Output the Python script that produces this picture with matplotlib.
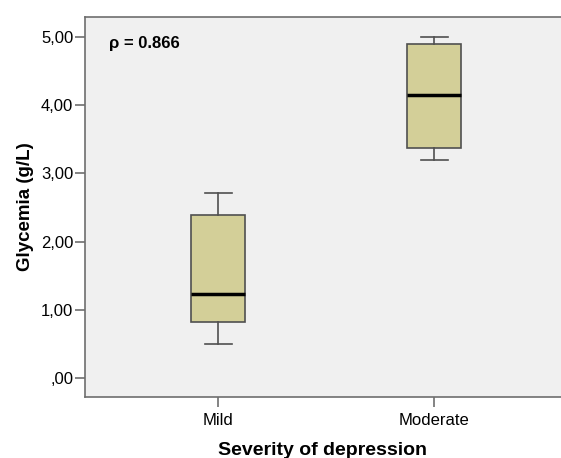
import matplotlib.pyplot as plt

plt.rcParams['font.family'] = ['Liberation Sans', 'DejaVu Sans']

groups = ['Mild', 'Moderate']
whislo = [0.50, 3.20]
q1 = [0.83, 3.37]
med = [1.24, 4.15]
q3 = [2.39, 4.89]
whishi = [2.72, 5.00]
yticks = [0, 1, 2, 3, 4, 5]
ytick_labels = [',00', '1,00', '2,00', '3,00', '4,00', '5,00']

stats = [dict(label=g, whislo=a, q1=b, med=c, q3=d, whishi=e, fliers=[])
         for g, a, b, c, d, e in zip(groups, whislo, q1, med, q3, whishi)]

fig = plt.figure(figsize=(5.61, 4.58), dpi=100)
ax = fig.add_axes([0.1515, 0.1332, 0.8485, 0.8297])
ax.set_facecolor('#f0f0f0')

edge = '#505050'
ax.bxp(stats, positions=[1, 2], widths=0.25, patch_artist=True,
       boxprops=dict(facecolor='#d3cf98', edgecolor=edge, linewidth=1.2),
       medianprops=dict(color='black', linewidth=2.5),
       whiskerprops=dict(color=edge, linewidth=1.2),
       capprops=dict(color=edge, linewidth=1.2),
       capwidths=0.125)

ax.set_xlim(0.384, 2.588)
ax.set_ylim(-0.274, 5.29)
ax.set_yticks(yticks)
ax.set_yticklabels(ytick_labels)
ax.set_xticks([1, 2])
ax.set_xticklabels(groups)

for s in ['left', 'bottom', 'top']:
    ax.spines[s].set_color('#6e6e6e')
    ax.spines[s].set_linewidth(1.2)
ax.spines['right'].set_visible(False)
ax.tick_params(direction='out', length=7.5, width=1.2, color='#6e6e6e',
               labelsize=12)
ax.tick_params(axis='y', pad=1)
ax.tick_params(axis='x', pad=4)

ax.set_xlabel('Severity of depression', fontsize=14, fontweight='bold', labelpad=10)
ax.set_ylabel('Glycemia (g/L)', fontsize=13.5, fontweight='bold', labelpad=5)

ax.text(0.05, 0.95, 'ρ = 0.866', transform=ax.transAxes, fontsize=12,
        fontweight='bold', va='top', ha='left')

fig.savefig('out.png', dpi=100)
